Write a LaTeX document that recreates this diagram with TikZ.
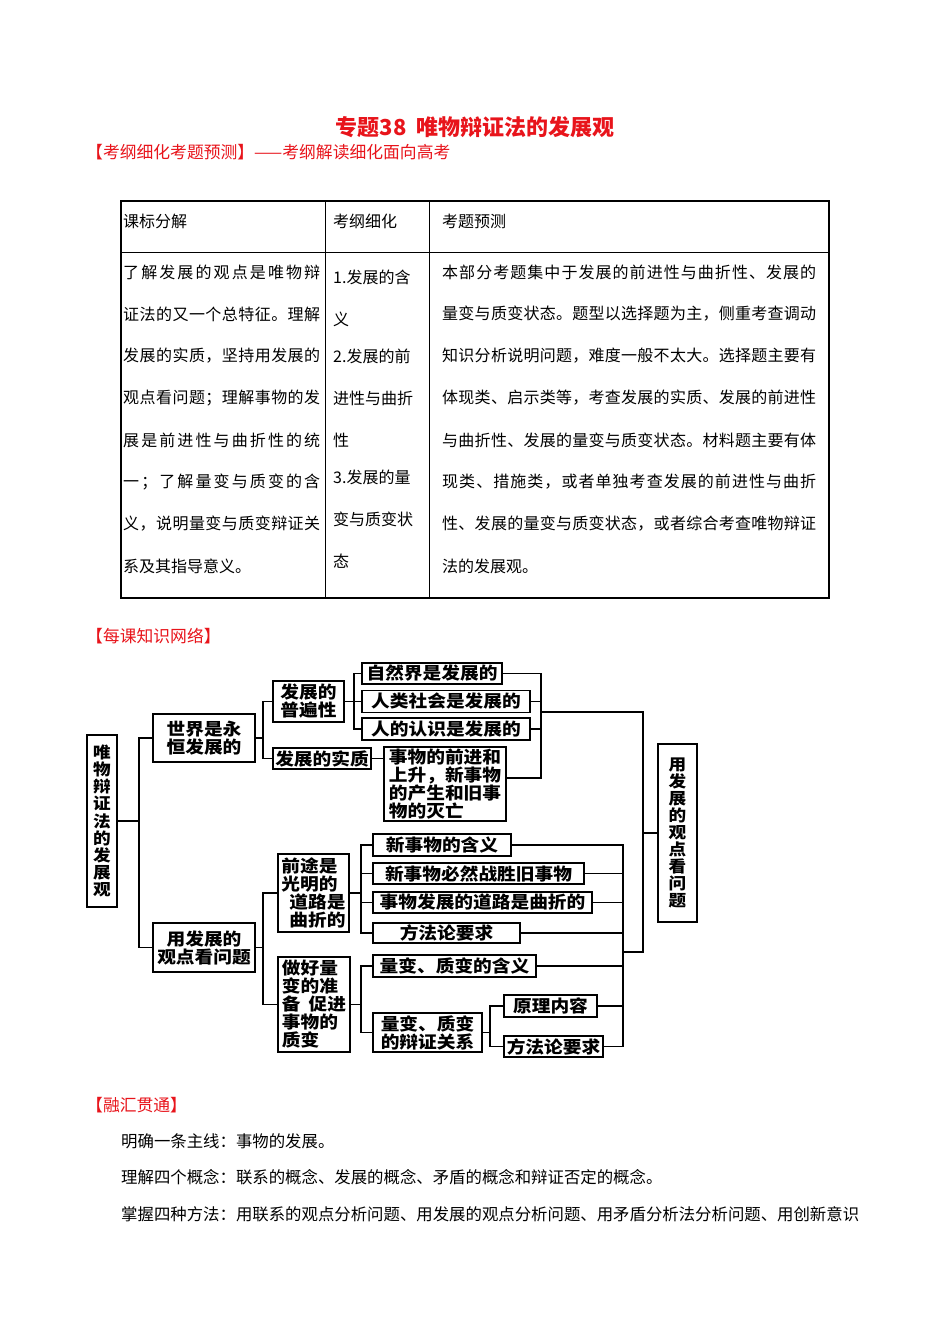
\documentclass[tikz,border=0pt]{standalone}
\usepackage{fontspec}
\setmainfont{Noto Sans CJK SC}
\newfontfamily\dgfont[FakeStretch=1.1]{Noto Sans CJK SC}
\usetikzlibrary{positioning}
\definecolor{HeadRed}{HTML}{E8141B}

\ExplSyntaxOn
\NewDocumentCommand\spreadtext{mm}{\makebox[#1][s]{\exp_args:No \tl_map_inline:nn {#2} {##1\hfil}\unskip}}
\ExplSyntaxOff

\tikzset{
  dbox/.style={draw,line width=1.6pt,inner sep=0pt,align=center,
    font=\dgfont\bfseries\fontsize{17}{18}\selectfont},
  vbox/.style={dbox,font=\dgfont\bfseries\fontsize{16}{17.1}\selectfont},
  wh/.style 2 args={minimum width=#1pt,minimum height=#2pt},
  link/.style={line width=1.4pt},
  cell/.style={inner sep=0pt,anchor=west,font=\fontsize{16}{16}\selectfont},
  redhead/.style={inner sep=0pt,anchor=west,text=HeadRed,font=\fontsize{16.8}{16.8}\selectfont},
}

\begin{document}
\begin{tikzpicture}[x=1pt,y=-1pt,line cap=rect]
  \fill[white] (0,0) rectangle (950,1344);
  \useasboundingbox (0,0) rectangle (950,1344);

  % headings
  \node[inner sep=0pt,text=HeadRed,font=\bfseries\fontsize{22}{22}\selectfont] (title) at (475,127) {专题38\hspace{0.45em}唯物辩证法的发展观};
  \node[redhead] (sub) at (86,152) {【考纲细化考题预测】——考纲解读细化面向高考};

  % table
  \draw[line width=1.5pt] (121,201) rectangle (829,598);
  \draw[line width=1pt] (121,252) -- (829,252) (325,201) -- (325,598) (429,201) -- (429,598);
  \node[cell] (h1) at (123,221) {课标分解};
  \node[cell] (h2) at (333,221) {考纲细化};
  \node[cell] (h3) at (442,221) {考题预测};
  \foreach \t [count=\i] in {了解发展的观点是唯物辩,证法的又一个总特征。理解,
    发展的实质，坚持用发展的,观点看问题；理解事物的发,展是前进性与曲折性的统,
    一；了解量变与质变的含,义，说明量变与质变辩证关}
    {\node[cell] (ka\i) at (123,{272+42*(\i-1)}) {\spreadtext{197pt}{\t}};}
  \node[cell] (ka8) at (123,566) {系及其指导意义。};
  \foreach \t/\y [count=\i] in {1.发展的含/277,义/319,2.发展的前/356,进性与曲折/398,
    性/440,3.发展的量/477,变与质变状/519,态/561}
    {\node[cell] (kb\i) at (333,\y) {\t};}
  \foreach \t [count=\i] in {本部分考题集中于发展的前进性与曲折性、发展的,
    量变与质变状态。题型以选择题为主，侧重考查调动,
    知识分析说明问题，难度一般不太大。选择题主要有,
    体现类、启示类等，考查发展的实质、发展的前进性,
    与曲折性、发展的量变与质变状态。材料题主要有体,
    现类、措施类，或者单独考查发展的前进性与曲折,
    性、发展的量变与质变状态，或者综合考查唯物辩证}
    {\node[cell] (kc\i) at (442,{272+42*(\i-1)}) {\spreadtext{374pt}{\t}};}
  \node[cell] (kc8) at (442,566) {法的发展观。};

  % knowledge network
  \node[redhead] (net) at (86,636) {【每课知识网络】};
  \node[vbox,wh={30}{172}] (root) at (102,821) {唯\\物\\辩\\证\\法\\的\\发\\展\\观};
  \node[dbox,wh={102}{48}] (shijie) at (204,738) {世界是永\\恒发展的};
  \node[dbox,wh={102}{49}] (yongfz) at (204,947.5) {用发展的\\观点看问题};
  \node[dbox,wh={71}{41}] (pbx) at (308.5,701.5) {发展的\\普遍性};
  \node[dbox,wh={98}{21}] (shizhi) at (322,758.5) {发展的实质};
  \node[dbox,wh={140}{21}] (zr) at (432,673.5) {自然界是发展的};
  \node[dbox,wh={168}{22}] (rl) at (446,701.5) {人类社会是发展的};
  \node[dbox,wh={168}{22}] (rs) at (446,729) {人的认识是发展的};
  \node[dbox,wh={122}{74},align=left] (qj) at (445,784) {事物的前进和\\上升，新事物\\的产生和旧事\\物的灭亡};
  \node[dbox,wh={71}{78},align=left] (qt) at (313.5,893) {前途是\\光明的\\\hspace{8pt}道路是\\\hspace{8pt}曲折的};
  \node[dbox,wh={72}{95},align=left] (zh) at (314,1004.5) {做好量\\变的准\\备\hspace{8pt}促进\\事物的\\质变};
  \node[dbox,wh={138}{22}] (xs1) at (442,845) {新事物的含义};
  \node[dbox,wh={211}{21}] (xs2) at (478.5,873.5) {新事物必然战胜旧事物};
  \node[dbox,wh={219}{21}] (xs3) at (482.5,902.5) {事物发展的道路是曲折的};
  \node[dbox,wh={147}{20}] (ff1) at (446.5,933) {方法论要求};
  \node[dbox,wh={163}{22}] (lb1) at (454.5,966) {量变、质变的含义};
  \node[dbox,wh={109}{39}] (bz) at (427.5,1032.5) {量变、质变\\的辩证关系};
  \node[dbox,wh={93}{22}] (yl) at (550.5,1006) {原理内容};
  \node[dbox,wh={99}{21}] (ff2) at (553.5,1046.5) {方法论要求};
  \node[vbox,wh={39}{178}] (yong) at (677.5,833) {用\\发\\展\\的\\观\\点\\看\\问\\题};

  % junctions
  \coordinate (jr) at (139,821);
  \coordinate (jw) at (263,738);
  \coordinate (jp) at (354,701.5);
  \coordinate (jy) at (263,947.5);
  \coordinate (jq) at (361,893);
  \coordinate (jz) at (361,1004.5);
  \coordinate (jb) at (490,1032.5);
  \coordinate (ct) at (541,712);
  \coordinate (cb) at (623,952);
  \coordinate (cr) at (643,833);

  % left tree
  \draw[link] (root.east) -- (jr);
  \draw[link] (shijie.west) -| (jr) |- (yongfz.west);
  \draw[link] (shijie.east) -- (jw);
  \draw[link] (pbx.west) -| (jw) |- (shizhi.west);
  \draw[link] (pbx.east) -- (jp);
  \draw[link] (zr.west) -| (jp) |- (rs.west);
  \draw[link] (jp) -- (rl.west);
  \draw[link] (shizhi.east) -- (shizhi.east -| qj.west);
  \draw[link] (yongfz.east) -- (jy);
  \draw[link] (qt.west) -| (jy) |- (zh.west);
  \draw[link] (qt.east) -- (jq);
  \draw[link] (xs1.west) -| (jq) |- (ff1.west);
  \foreach \n in {xs2,xs3} {\draw[link] (jq) |- (\n.west);}
  \draw[link] (zh.east) -- (jz);
  \draw[link] (lb1.west) -| (jz) |- (bz.west);
  \draw[link] (bz.east) -- (jb);
  \draw[link] (yl.west) -| (jb) |- (ff2.west);

  % right collectors
  \foreach \n in {zr,rl,rs} {\draw[link] (\n.east) -| (ct);}
  \draw[link] ([yshift=6pt]qj.east) -| (ct);
  \foreach \n in {xs1,xs2,xs3,ff1,lb1,yl,ff2} {\draw[link] (\n.east) -| (cb);}
  \draw[link] (ct) -| (cr) -- (yong.west);
  \draw[link] (cb) -| (cr);

  % closing text
  \node[redhead] (hui) at (86,1105) {【融汇贯通】};
  \node[cell,font=\fontsize{16.4}{16.4}\selectfont] (p1) at (121,1141) {明确一条主线：事物的发展。};
  \node[cell,font=\fontsize{16.4}{16.4}\selectfont] (p2) at (121,1177) {理解四个概念：联系的概念、发展的概念、矛盾的概念和辩证否定的概念。};
  \node[cell,font=\fontsize{16.4}{16.4}\selectfont] (p3) at (121,1214) {掌握四种方法：用联系的观点分析问题、用发展的观点分析问题、用矛盾分析法分析问题、用创新意识};
\end{tikzpicture}
\end{document}
